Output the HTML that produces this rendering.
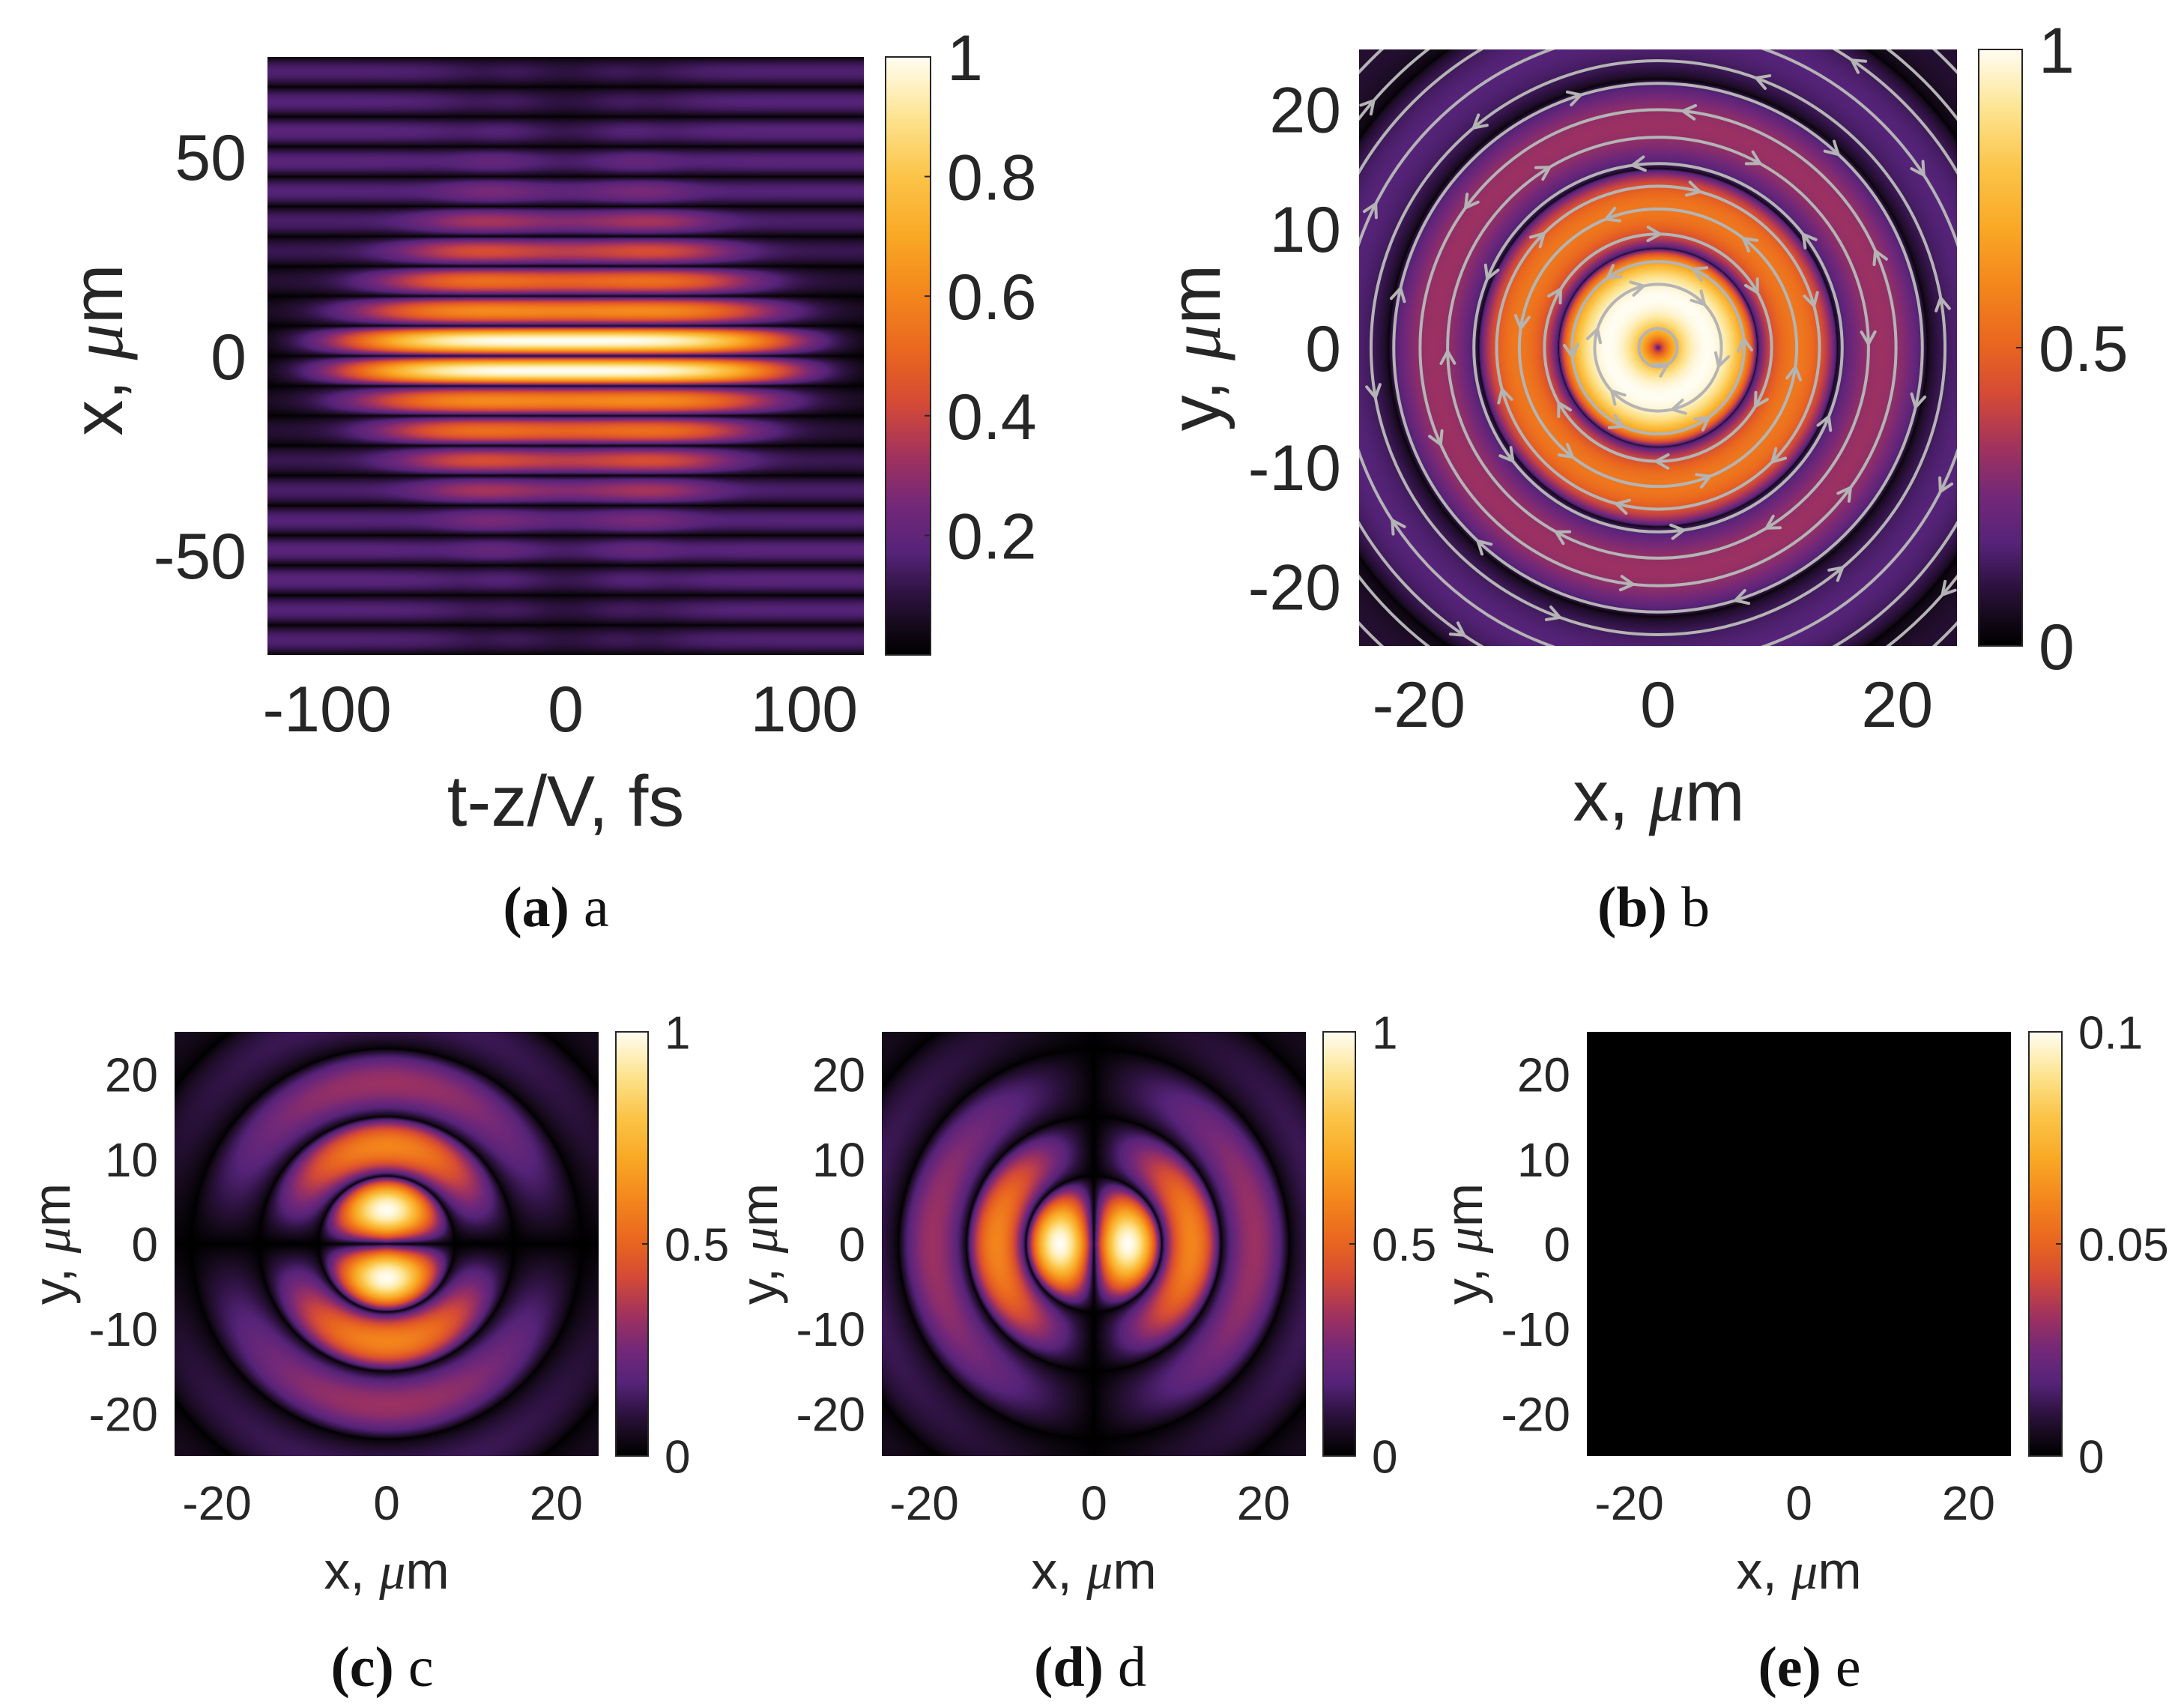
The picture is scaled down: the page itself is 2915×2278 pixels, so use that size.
<!DOCTYPE html>
<html><head><meta charset="utf-8">
<style>
html,body{margin:0;padding:0;background:#fff;}
#root{position:relative;width:2915px;height:2278px;overflow:hidden;background:#fff;}
canvas{position:absolute;}
svg{position:absolute;left:0;top:0;}
text{font-family:"Liberation Sans",sans-serif;fill:#262626;}
.cap{font-family:"Liberation Serif",serif;fill:#111;}
</style></head>
<body>
<div id="root">
<canvas id="ca"></canvas>
<canvas id="cb"></canvas>
<canvas id="cc"></canvas>
<canvas id="cd"></canvas>
<canvas id="ce"></canvas>
<canvas id="cba"></canvas>
<canvas id="cbb"></canvas>
<canvas id="cbc"></canvas>
<canvas id="cbd"></canvas>
<canvas id="cbe"></canvas>
<svg id="ov" width="2915" height="2278"></svg>
</div>
<script>
// ---------- data ----------
const stripePeriod = 7.5;
const stripePeaks = [1, 0.6, 0.5, 0.38, 0.28, 0.2, 0.15, 0.12, 0.1, 0.1, 0.1];
const stripeWidths = [95, 88, 78, 68, 58, 48, 42, 36, 32, 30, 30];
const stripeBg = [0, 0.05, 0.08, 0.12, 0.15, 0.17, 0.18, 0.18, 0.17, 0.16, 0.15];
const bZeros = [0, 8.3, 15, 22.5, 30.5, 38];
const bPeaks = [1, 0.56, 0.32, 0.17, 0.08];
const cdZeros = [0, 8.0, 15.0, 23.0, 31, 38];
const cdPeaks = [1, 0.6, 0.32, 0.13, 0.06];
const cdAngExp = [0.8, 1.0, 0.8, 0.6, 0.6];
const streamRadii = [1.6, 5.3, 7.2, 9.5, 11.6, 13.5, 15.4, 17.6, 19.9, 22.1, 24.0, 26.5, 29, 31.5, 34];
const streamDir = [1, -1, 1, -1, 1, -1, 1, -1, 1, -1, 1, -1, 1, -1, 1];
const arrowAngles = [20, 80, 140, 200, 260, 320];
const aXTicks = [-100, 0, 100];
const aYTicks = [50, 0, -50];
const aCbTicks = [0.2, 0.4, 0.6, 0.8, 1];
const sqTicks = [-20, 0, 20];
const bYTicks = [20, 10, 0, -10, -20];
const bCbTicks = [0, 0.5, 1];
const eCbTicks = [0, 0.05, 0.1];

// ---------- colormap ----------
const cmStops = [
 [0,[0,0,0]],[0.05,[22,10,28]],[0.1,[45,18,64]],[0.17,[85,35,120]],[0.25,[115,40,120]],
 [0.33,[160,50,95]],[0.42,[212,74,55]],[0.5,[232,100,32]],[0.6,[243,133,28]],
 [0.7,[249,168,37]],[0.8,[251,196,72]],[0.9,[253,228,145]],[1,[255,253,242]]];
function cmap(v){
  v=Math.max(0,Math.min(1,v));
  for(let i=1;i<cmStops.length;i++){
    if(v<=cmStops[i][0]){
      const a=cmStops[i-1],b=cmStops[i];const t=(v-a[0])/(b[0]-a[0]);
      return [a[1][0]+(b[1][0]-a[1][0])*t,a[1][1]+(b[1][1]-a[1][1])*t,a[1][2]+(b[1][2]-a[1][2])*t];
    }
  }
  return cmStops[cmStops.length-1][1];
}

const P = {
 a:{x:357,y:76,w:796,h:798, xr:[-125,125], yr:[-75,75]},
 b:{x:1814,y:66,w:798,h:796, xr:[-25,25], yr:[-25,25]},
 c:{x:233,y:1377,w:566,h:566, xr:[-25,25], yr:[-25,25]},
 d:{x:1177,y:1377,w:566,h:566, xr:[-25,25], yr:[-25,25]},
 e:{x:2118,y:1377,w:566,h:566, xr:[-25,25], yr:[-25,25]}
};
const CB = {
 a:{x:1182,y:76,w:60,h:798, r:[0,1]},
 b:{x:2641,y:66,w:58,h:796, r:[0,1]},
 c:{x:822,y:1377,w:43,h:566, r:[0,1]},
 d:{x:1766,y:1377,w:43,h:566, r:[0,1]},
 e:{x:2708,y:1377,w:44,h:566, r:[0,0.1]}
};
function sx(p,v){return p.x+(v-p.xr[0])/(p.xr[1]-p.xr[0])*p.w;}
function sy(p,v){return p.y+(p.yr[1]-v)/(p.yr[1]-p.yr[0])*p.h;}

function radial(r,zeros,peaks,exp){
  for(let i=0;i<peaks.length;i++){
    if(r>=zeros[i]&&r<zeros[i+1]){
      const u=(r-zeros[i])/(zeros[i+1]-zeros[i]);
      return {v:peaks[i]*Math.pow(Math.sin(Math.PI*u),exp),i:i};
    }
  }
  return {v:0,i:peaks.length-1};
}

function fillCanvas(id,p,fn){
  const c=document.getElementById(id);c.width=p.w;c.height=p.h;
  c.style.left=p.x+'px';c.style.top=p.y+'px';
  const ctx=c.getContext('2d');const img=ctx.createImageData(p.w,p.h);
  for(let j=0;j<p.h;j++){
    const yv=p.yr[1]-(j+0.5)/p.h*(p.yr[1]-p.yr[0]);
    for(let i=0;i<p.w;i++){
      const xv=p.xr[0]+(i+0.5)/p.w*(p.xr[1]-p.xr[0]);
      const col=cmap(fn(xv,yv));const k=(j*p.w+i)*4;
      img.data[k]=col[0];img.data[k+1]=col[1];img.data[k+2]=col[2];img.data[k+3]=255;
    }
  }
  ctx.putImageData(img,0,0);
}

fillCanvas('ca',P.a,function(t,x){
  const ax=Math.abs(x);const n=Math.min(stripePeaks.length-1,Math.floor(ax/stripePeriod));
  const u=(ax-n*stripePeriod)/stripePeriod;const s=Math.pow(Math.sin(Math.PI*u),0.7);
  const g=stripePeaks[n]*Math.exp(-Math.pow(t/stripeWidths[n],4));
  const bg=stripeBg[n]*(1-Math.exp(-Math.pow(t/35,2)));
  return s*(g+bg);
});
fillCanvas('cb',P.b,function(x,y){
  const r=Math.hypot(x,y);return radial(r,bZeros,bPeaks,0.45).v;
});
fillCanvas('cc',P.c,function(x,y){
  const r=Math.hypot(x,y);const R=radial(r,cdZeros,cdPeaks,0.7);
  const s=r>0?Math.abs(y)/r:0;return R.v*Math.pow(s,cdAngExp[R.i]);
});
fillCanvas('cd',P.d,function(x,y){
  const r=Math.hypot(x,y);const R=radial(r,cdZeros,cdPeaks,0.7);
  const s=r>0?Math.abs(x)/r:0;return R.v*Math.pow(s,cdAngExp[R.i]);
});
fillCanvas('ce',P.e,function(){return 0.002;});

for(const k in CB){
  const b=CB[k];const c=document.getElementById('cb'+k);c.width=b.w;c.height=b.h;
  c.style.left=b.x+'px';c.style.top=b.y+'px';
  const ctx=c.getContext('2d');
  for(let j=0;j<b.h;j++){const col=cmap(1-j/(b.h-1));ctx.fillStyle='rgb('+col.map(Math.round).join(',')+')';ctx.fillRect(0,j,b.w,1);}
}

const NS='http://www.w3.org/2000/svg';const ov=document.getElementById('ov');
function el(tag,attrs,parent){const e=document.createElementNS(NS,tag);for(const a in attrs)e.setAttribute(a,attrs[a]);(parent||ov).appendChild(e);return e;}
function txt(x,y,s,size,anchor,name){
  const t=el('text',{x:x,y:y,'font-size':size,'text-anchor':anchor||'middle'});
  t.textContent=s;
  
  
  return t;
}
function umLabel(x,y,size,prefix,rot,name){
  const t=el('text',{x:x,y:y,'font-size':size,'text-anchor':'middle',transform:rot?('rotate(-90 '+x+' '+y+')'):''});
  
  
  const a=el('tspan',{},t);a.textContent=prefix+', ';
  const b=el('tspan',{'font-style':'italic','font-family':'"Liberation Serif",serif'},t);b.textContent='μ';
  const c=el('tspan',{},t);c.textContent='m';
  return t;
}
function cbFrame(b,ticks,labelSize,fmt,name){
  const r=el('rect',{x:b.x,y:b.y,width:b.w,height:b.h,fill:'none',stroke:'#262626','stroke-width':2});
  
  
  ticks.forEach(function(v){
    const y=b.y+b.h-(v-b.r[0])/(b.r[1]-b.r[0])*b.h;
    el('line',{x1:b.x+b.w-8,x2:b.x+b.w,y1:y,y2:y,stroke:'#262626','stroke-width':2});
    txt(b.x+b.w+22,y+labelSize*0.36,fmt(v),labelSize,'start',name+'-tick-label');
  });
}
function fmt(v){return String(v);}

aXTicks.forEach(function(v){txt(sx(P.a,v),976,fmt(v),86,'middle','a-x-tick-label');});
aYTicks.forEach(function(v){txt(329,sy(P.a,v)+31,fmt(v),86,'end','a-y-tick-label');});
txt(755,1102,'t-z/V, fs',96,'middle','a-x-axis-title');
umLabel(163,467,96,'x',true,'a-y-axis-title');
cbFrame(CB.a,aCbTicks,86,fmt,'a-colorbar');

sqTicks.forEach(function(v){txt(sx(P.b,v),970,fmt(v),86,'middle','b-x-tick-label');});
bYTicks.forEach(function(v){txt(1790,sy(P.b,v)+31,fmt(v),86,'end','b-y-tick-label');});
umLabel(2214,1095,96,'x',false,'b-x-axis-title');
umLabel(1628,464,96,'y',true,'b-y-axis-title');
cbFrame(CB.b,bCbTicks,86,fmt,'b-colorbar');

const cx=sx(P.b,0),cy=sy(P.b,0),kpx=P.b.w/50;
el('clipPath',{id:'clipb'},el('defs',{})).appendChild((function(){const r=document.createElementNS(NS,'rect');r.setAttribute('x',P.b.x);r.setAttribute('y',P.b.y);r.setAttribute('width',P.b.w);r.setAttribute('height',P.b.h);return r;})());
const sg=el('g',{'clip-path':'url(#clipb)',stroke:'#b4b4b4','stroke-width':4,fill:'none','stroke-linecap':'round'});


streamRadii.forEach(function(rr,i){
  const R=rr*kpx;
  const c=el('circle',{cx:cx,cy:cy,r:R},sg);
  
  
  const angs=rr<3?[300]:arrowAngles;
  angs.forEach(function(a0){
    const a=(a0+i*23)*Math.PI/180;
    const px=cx+R*Math.cos(a),py=cy-R*Math.sin(a);
    const d=streamDir[i];
    const tx=-Math.sin(a)*d,ty=-Math.cos(a)*d;
    const L=16,W=9;
    const bx=px-tx*L,by=py-ty*L;const nx=-ty,ny=tx;
    el('polyline',{points:(bx+nx*W)+','+(by+ny*W)+' '+px+','+py+' '+(bx-nx*W)+','+(by-ny*W)},sg);
  });
});

[['c',P.c,CB.c,[0,0.5,1]],['d',P.d,CB.d,[0,0.5,1]],['e',P.e,CB.e,eCbTicks]].forEach(function(q){
  const n=q[0],p=q[1],b=q[2];
  sqTicks.forEach(function(v){txt(sx(p,v),2028,fmt(v),64,'middle',n+'-x-tick-label');});
  bYTicks.forEach(function(v){txt(p.x-22,sy(p,v)+23,fmt(v),64,'end',n+'-y-tick-label');});
  umLabel(p.x+p.w/2,2120,70,'x',false,n+'-x-axis-title');
  umLabel(p.x-140,p.y+p.h/2,70,'y',true,n+'-y-axis-title');
  cbFrame(b,q[3],62,fmt,n+'-colorbar');
});

function caption(x,y,letter,name){
  const t=el('text',{x:x,y:y,'font-size':76,'text-anchor':'middle','class':'cap'});
  
  
  const a=el('tspan',{'font-weight':'bold'},t);a.textContent='('+letter+')';
  const b=el('tspan',{},t);b.textContent=' '+letter;
}
caption(742,1236,'a','caption-a');
caption(2207,1236,'b','caption-b');
caption(510,2250,'c','caption-c');
caption(1455,2250,'d','caption-d');
caption(2415,2250,'e','caption-e');
</script>
</body></html>
